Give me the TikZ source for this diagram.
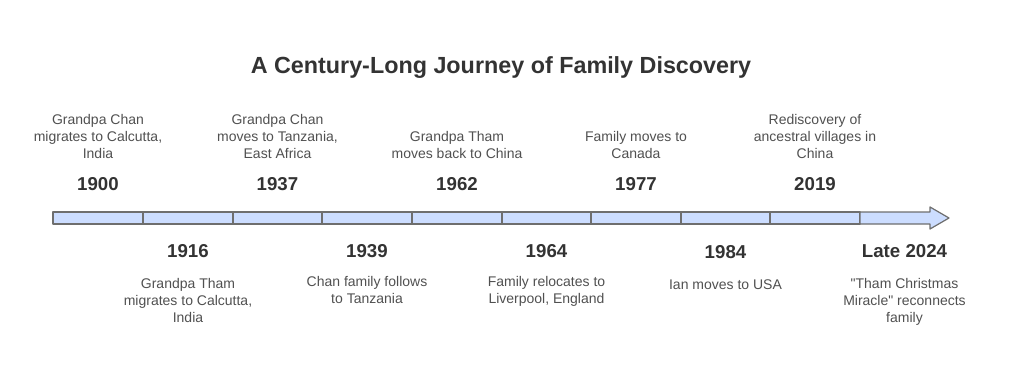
\documentclass[tikz,border=0pt]{standalone}
\usepackage{fontspec}
\setmainfont{Liberation Sans}[Ligatures=TeXOff]
\definecolor{barblue}{HTML}{CCDDFF}
\definecolor{linegray}{HTML}{6E6E6E}
\definecolor{titlegray}{HTML}{333333}
\definecolor{yeargray}{HTML}{333333}
\definecolor{descgray}{HTML}{505050}
\begin{document}
\begin{tikzpicture}[x=0.75pt,y=-0.75pt,
  seg/.style={draw=linegray, fill=barblue, line width=0.9pt, line join=round},
  desc/.style={text=descgray, font=\fontsize{10.5}{12.75}\selectfont, align=center, inner sep=0pt},
  yearlab/.style={text=yeargray, font=\fontsize{14}{16}\selectfont\bfseries, inner sep=0pt},
  titlelab/.style={text=titlegray, font=\fontsize{17.5}{20}\selectfont\bfseries, inner sep=0pt}]
\useasboundingbox (0,0) rectangle (1024,381);
\node[titlelab] (title) at (501,68) {A Century-Long Journey of Family Discovery};
% timeline bar
\draw[seg] (53,212) rectangle (143,224);
\draw[seg] (143,212) rectangle (233,224);
\draw[seg] (233,212) rectangle (322,224);
\draw[seg] (322,212) rectangle (412,224);
\draw[seg] (412,212) rectangle (502,224);
\draw[seg] (502,212) rectangle (591,224);
\draw[seg] (591,212) rectangle (681,224);
\draw[seg] (681,212) rectangle (770,224);
\draw[seg] (770,212) rectangle (860,224);
\draw[seg] (860,212) -- (930,212) -- (930,207) -- (949,218) -- (930,229) -- (930,224) -- (860,224) -- cycle;
% top events
\node[yearlab] (y1900) at (98,184) {1900};
\node[desc, anchor=south] (d1900) at (98,159) {Grandpa Chan\\migrates to Calcutta,\\India};
\node[yearlab] (y1937) at (277.5,184) {1937};
\node[desc, anchor=south] (d1937) at (277.5,159) {Grandpa Chan\\moves to Tanzania,\\East Africa};
\node[yearlab] (y1962) at (457,184) {1962};
\node[desc, anchor=south] (d1962) at (457,159) {Grandpa Tham\\moves back to China};
\node[yearlab] (y1977) at (636,184) {1977};
\node[desc, anchor=south] (d1977) at (636,159) {Family moves to\\Canada};
\node[yearlab] (y2019) at (815,184) {2019};
\node[desc, anchor=south] (d2019) at (815,159) {Rediscovery of\\ancestral villages in\\China};
% bottom events
\node[yearlab] (y1916) at (188,251) {1916};
\node[desc, anchor=north] (d1916) at (188,278) {Grandpa Tham\\migrates to Calcutta,\\India};
\node[yearlab] (y1939) at (367,251) {1939};
\node[desc, anchor=north] (d1939) at (367,276) {Chan family follows\\to Tanzania};
\node[yearlab] (y1964) at (546.5,251) {1964};
\node[desc, anchor=north] (d1964) at (546.5,276) {Family relocates to\\Liverpool, England};
\node[yearlab] (y1984) at (725.5,252) {1984};
\node[desc, anchor=north] (d1984) at (725.5,279) {Ian moves to USA};
\node[yearlab] (y2024) at (904.5,251) {Late 2024};
\node[desc, anchor=north] (d2024) at (904.5,278) {"Tham Christmas\\Miracle" reconnects\\family};
\end{tikzpicture}
\end{document}
